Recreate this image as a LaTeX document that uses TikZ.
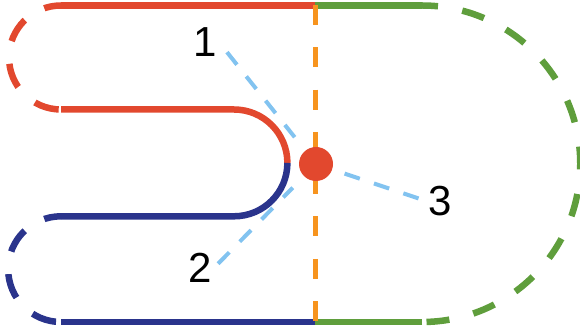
\documentclass[tikz,border=0pt]{standalone}
\usepackage{fontspec}
\setmainfont{Liberation Sans}
\usetikzlibrary{positioning}
\definecolor{loopred}{RGB}{226,72,46}
\definecolor{loopblue}{RGB}{42,52,140}
\definecolor{loopgreen}{RGB}{95,158,60}
\definecolor{axisorange}{RGB}{247,148,30}
\definecolor{pointblue}{RGB}{130,195,240}

\begin{document}
\begin{tikzpicture}[x=1pt, y=1pt,
    solidline/.style={line width=6.5pt},
    loopdash/.style={line width=6.5pt, dash pattern=on 25pt off 23pt, dash phase=8pt},
    axisline/.style={draw=axisorange, line width=5pt, dash pattern=on 20pt off 22.3pt},
    pointer/.style={draw=pointblue, line width=4pt, dash pattern=on 16pt off 15pt},
    numlabel/.style={font=\fontsize{42}{50}\selectfont, inner sep=2pt}
  ]
  \useasboundingbox (0,0) rectangle (580,334);

  % red loop
  \draw[loopred, solidline] (315,328.5) -- (61,328.5);
  \draw[loopred, loopdash] (61,328.5) arc[start angle=90, end angle=270, radius=52];
  \draw[loopred, solidline] (61,224.5) -- (234,224.5) arc[start angle=90, end angle=0, radius=53.4];

  % blue loop
  \draw[loopblue, solidline] (287.4,171.1) arc[start angle=0, end angle=-90, radius=53.4] -- (61,117.7);
  \draw[loopblue, loopdash] (61,117.7) arc[start angle=90, end angle=270, radius=52.85];
  \draw[loopblue, solidline] (61,12) -- (315,12);

  % green loop
  \draw[loopgreen, solidline] (315,328.5) -- (422,328.5);
  \draw[loopgreen, solidline, dash pattern=on 23pt off 24.67pt, dash phase=7pt]
    (422,328.5) arc[start angle=90, end angle=-90, radius=158.25];
  \draw[loopgreen, solidline] (422,12) -- (315,12);

  \draw[axisline] (315,329) -- (315,12);

  \node[circle, fill=loopred, minimum size=34pt, inner sep=0pt] (dot) at (316,170) {};

  \node[numlabel] (one) at (205,292) {1};
  \node[numlabel] (two) at (200,66) {2};
  \node[numlabel] (three) at (440,133) {3};

  \draw[pointer, shorten <=13pt, shorten >=17pt] (one.east) -- (dot);
  \draw[pointer, shorten <=6pt, shorten >=16pt] (two.east) -- (dot);
  \draw[pointer, shorten <=8pt, shorten >=11pt] (three.west) -- (dot);
\end{tikzpicture}
\end{document}
